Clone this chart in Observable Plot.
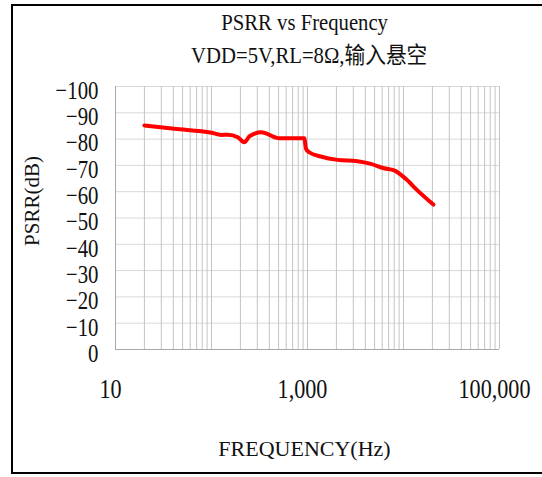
<!DOCTYPE html>
<html><head><meta charset="utf-8">
<script src="https://cdn.jsdelivr.net/npm/d3@7"></script>
<script src="https://cdn.jsdelivr.net/npm/@observablehq/plot@0.6"></script>
<style>
html,body{margin:0;padding:0;background:#fff;overflow:hidden;}
#wrap{position:relative;width:542px;height:477px;overflow:hidden;font-family:"Liberation Serif","Noto Sans CJK SC",serif;color:#111;}
#frame{position:absolute;left:11px;top:4px;width:640px;height:470px;border:2px solid #000;box-sizing:border-box;}
.ttl{position:absolute;width:400px;text-align:center;white-space:nowrap;z-index:2;}
.ttl span{display:inline-block;}
#t1{left:105px;top:12px;font-size:22px;line-height:22px;}
#t1 span{transform:scaleX(0.94) scaleY(1.05);}
#t2{left:109px;top:44px;font-size:23px;line-height:23px;}
#t2 span{transform:scaleX(0.9);}
#chart{position:absolute;left:0;top:60px;}
</style></head>
<body>
<div id="wrap">
  <div id="frame"></div>
  <div id="t1" class="ttl"><span>PSRR vs Frequency</span></div>
  <div id="t2" class="ttl"><span>VDD=5V,RL=8Ω,输入悬空</span></div>
  <div id="chart"></div>
</div>
<script>
// Data
const freq = [20, 41, 100, 126, 148, 188, 220, 248, 328, 510, 925, 966, 1040, 1375, 2060, 3320, 4570, 6280, 7980, 10550, 13960, 20460];
const psrr = [-85.2, -83.9, -82.4, -81.6, -81.7, -80.7, -78.8, -81.0, -82.6, -80.3, -80.3, -76.3, -75.0, -73.4, -72.1, -71.6, -70.6, -68.9, -68.1, -64.9, -60.5, -55.1];
const xTicks = [10, 1000, 100000];
const yTicks = [0, -10, -20, -30, -40, -50, -60, -70, -80, -90, -100];
const xGrid = [10, 20, 30, 40, 50, 60, 70, 80, 90,
  100, 200, 300, 400, 500, 600, 700, 800, 900,
  1000, 2000, 3000, 4000, 5000, 6000, 7000, 8000, 9000,
  10000, 20000, 30000, 40000, 50000, 60000, 70000, 80000, 90000, 100000];
const xLabel = "FREQUENCY(Hz)";
const yLabel = "PSRR(dB)";

const data = freq.map((f, i) => ({f, v: psrr[i]}));

const svg = Plot.plot({
  width: 542,
  height: 417,
  marginTop: 26,
  marginBottom: 128,
  marginLeft: 115,
  marginRight: 43,
  style: {fontFamily: "'Liberation Serif','Noto Sans CJK SC',serif", background: "transparent", color: "#111", overflow: "visible"},
  x: {type: "log", domain: [10, 100000]},
  y: {domain: [0, -100]},
  marks: [
    Plot.ruleY(yTicks, {stroke: "#d9d9d9", strokeWidth: 1}),
    Plot.ruleX(xGrid, {stroke: "#c4c4c4", strokeWidth: 1}),
    Plot.ruleX([10], {stroke: "#a8a8a8", strokeWidth: 1}),
    Plot.ruleY([0], {stroke: "#a8a8a8", strokeWidth: 1}),
    Plot.axisX({ticks: xTicks, tickFormat: d3.format(","), tickSize: 0, tickPadding: 29, fontSize: 27, dx: -5, label: null, fill: "#111"}),
    Plot.axisY({ticks: yTicks, tickSize: 0, tickPadding: 17, fontSize: 26, dy: 4, label: null, fill: "#111"}),
    Plot.line(data, {x: "f", y: "v", stroke: "#ff0000", strokeWidth: 4, curve: "monotone-x"}),
    Plot.text([xLabel], {text: d => d, frameAnchor: "bottom", dy: 99, lineAnchor: "middle", textAnchor: "middle", fontSize: 22, dx: -3, fill: "#111", ariaLabel: "xlabel"}),
    Plot.text([yLabel], {text: d => d, frameAnchor: "left", rotate: -90, dx: -83, dy: -17, lineAnchor: "middle", textAnchor: "middle", fontSize: 21, fill: "#111", ariaLabel: "ylabel"})
  ]
});

// condense serif glyphs horizontally (reference uses a narrow Song-style Latin face)
const scaleMap = {"x-axis tick label": 0.82, "y-axis tick label": 0.8, "xlabel": 0.84, "ylabel": 0.82};
svg.querySelectorAll("g[aria-label]").forEach(g => {
  const s = scaleMap[g.getAttribute("aria-label")];
  if (!s) return;
  g.querySelectorAll("text").forEach(t => {
    let tr = t.getAttribute("transform") || "";
    const x = t.getAttribute("x");
    if (x != null && !isNaN(+x)) {
      tr += ` translate(${+x},0)`;
      t.removeAttribute("x");
    }
    t.setAttribute("transform", (tr + ` scale(${s},1)`).trim());
  });
});

document.getElementById("chart").appendChild(svg);
</script>
</body></html>
